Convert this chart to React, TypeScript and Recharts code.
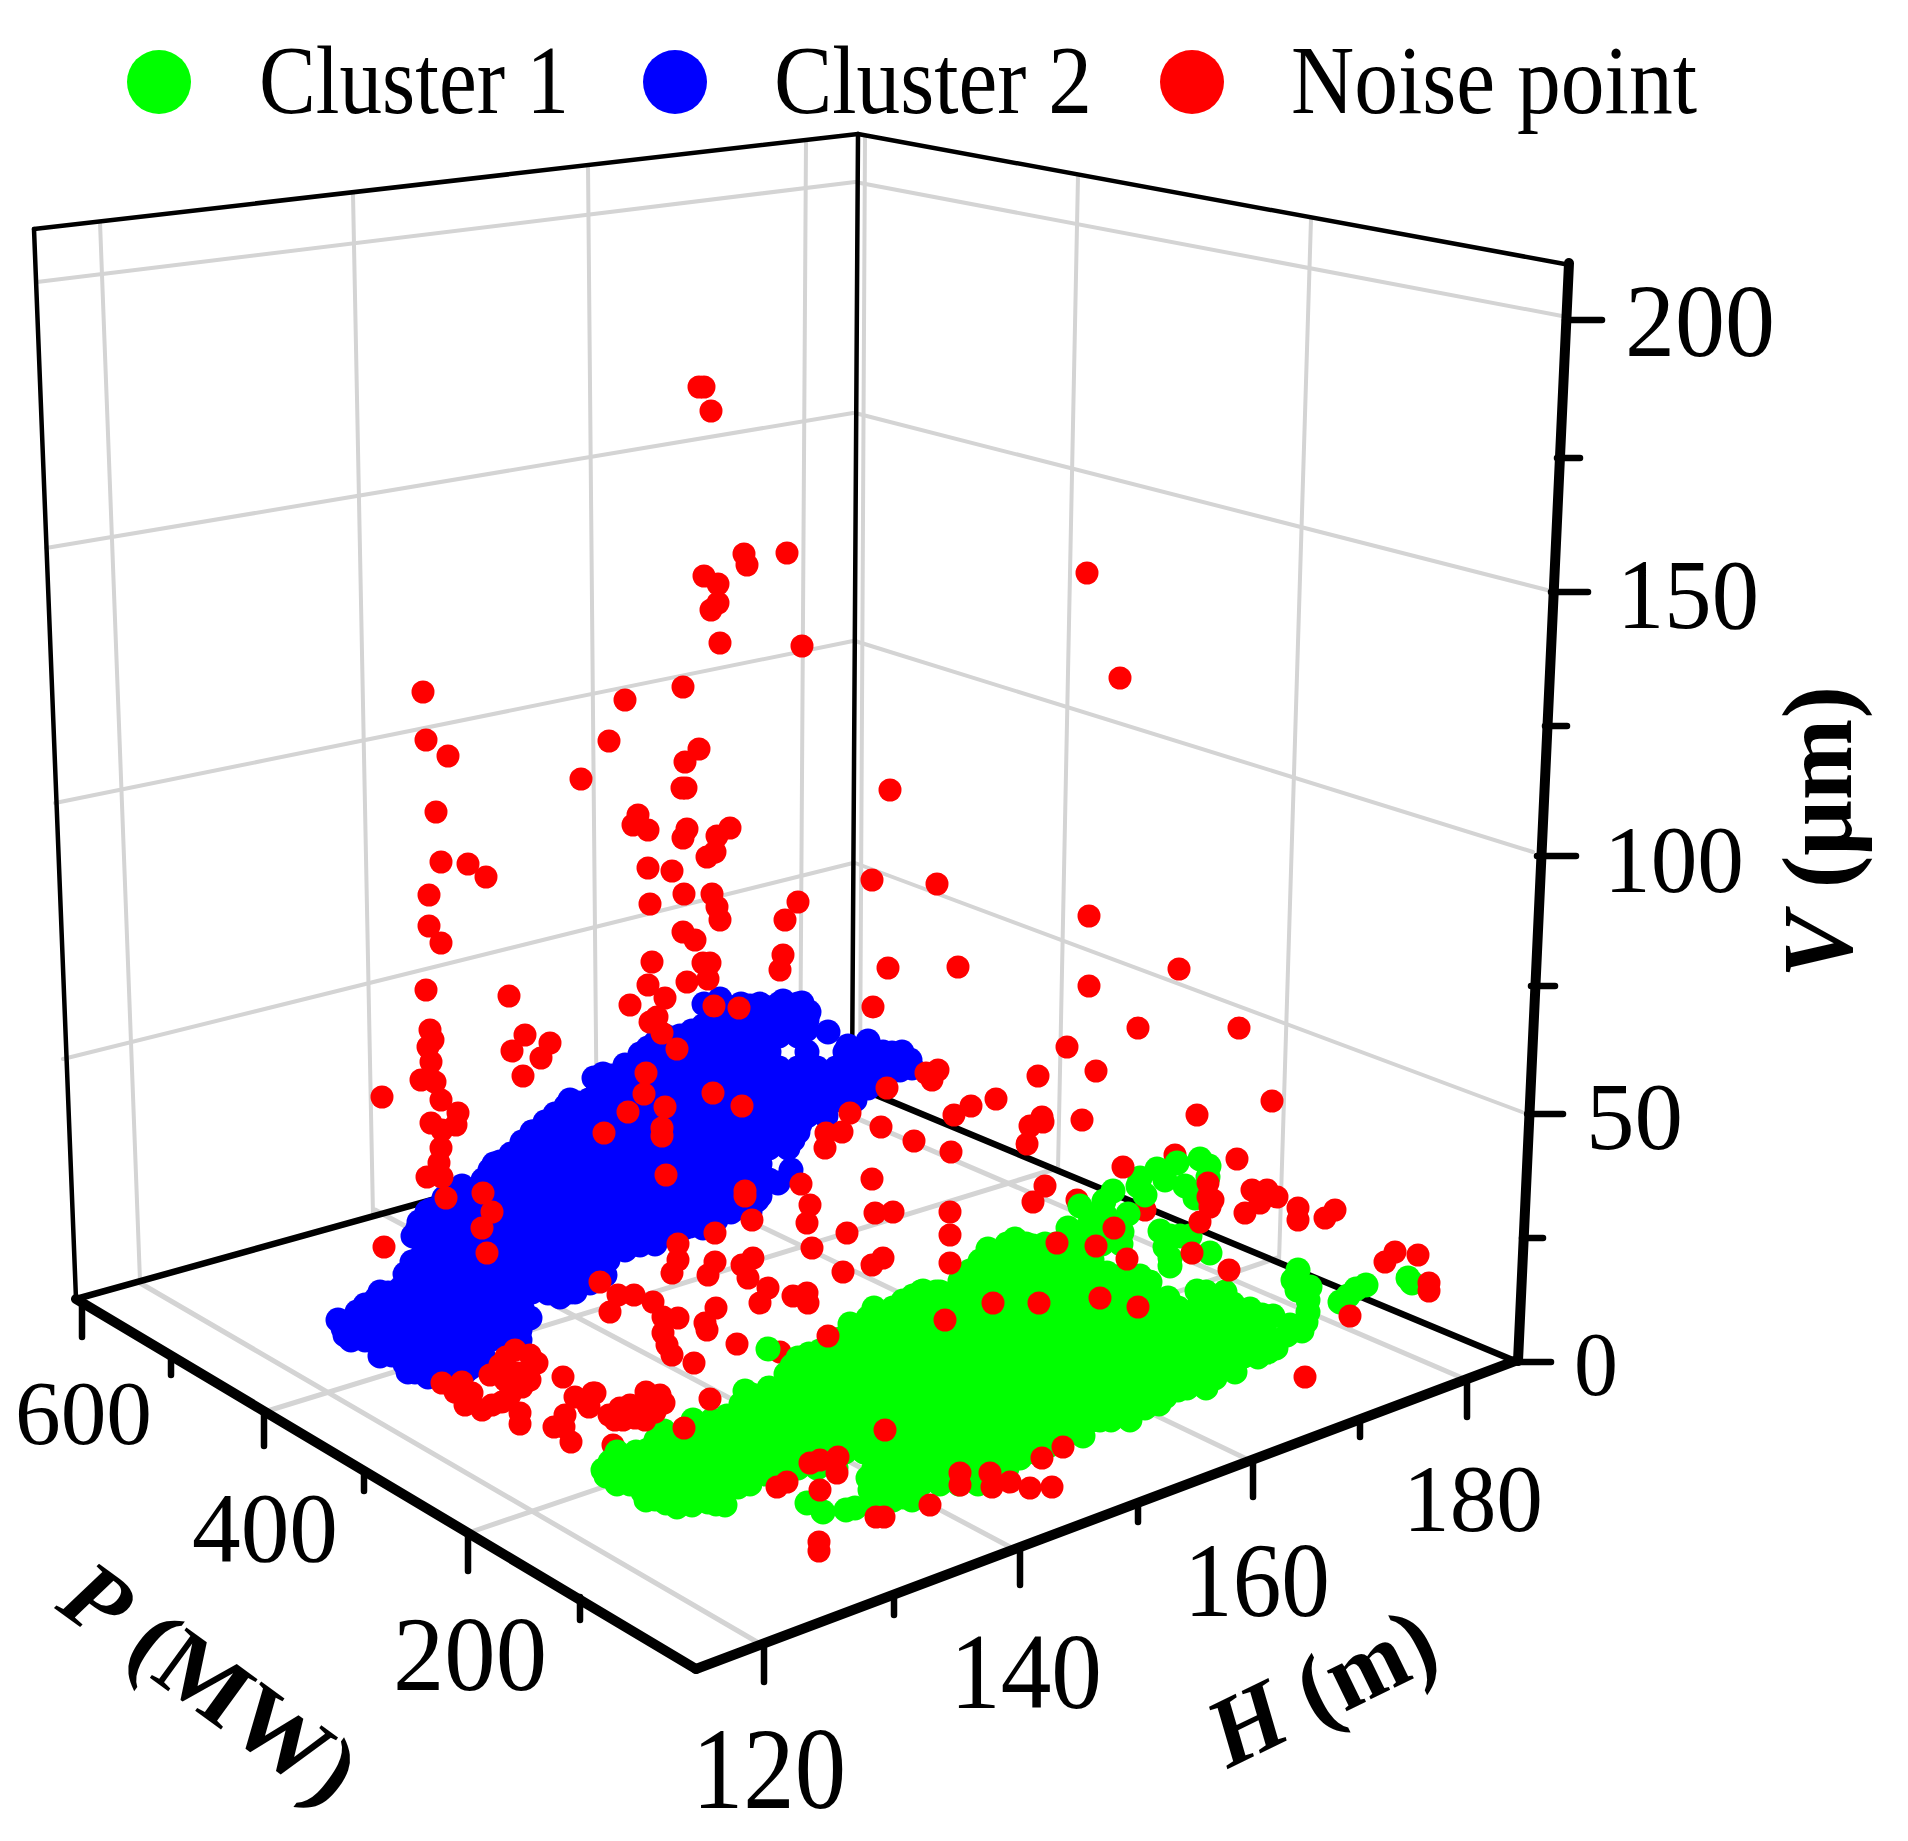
import { ScatterChart, Scatter, XAxis, YAxis, ReferenceLine, ReferenceDot } from 'recharts';

// No 3D chart in Recharts, so everything is kept as projected (x, y) values on a flat plane
const PLANE_W = 1908;
const PLANE_H = 1841;

type Seg = [number, number, number, number];
type Row = [number, number[]];

const seriesNames = ['Cluster 1', 'Cluster 2', 'Noise point'];
const seriesColors = ['#00ff00', '#0000ff', '#ff0000'];

const wallGrid: Seg[] = [
  [37, 282, 855, 182], [46, 548, 853, 413], [55, 803, 853, 641], [63, 1059, 853, 863],
  [855, 182, 1562, 316], [855, 413, 1547, 590], [855, 641, 1533, 852], [855, 863, 1522, 1112],
  [100, 222, 140, 1281], [353, 194, 373, 1215], [588, 165, 597, 1151], [806, 140, 800, 1094],
  [865, 138, 860, 1088], [1078, 176, 1058, 1170], [1311, 219, 1279, 1262],
];
const floorGrid: Seg[] = [
  [140, 1283, 757, 1642], [375, 1210, 1010, 1547], [597, 1148, 1253, 1462], [800, 1094, 1460, 1377],
  [264, 1412, 1058, 1168], [468, 1533, 1277, 1258],
];
const thinFrame: Seg[] = [
  [34, 229, 858, 134], [858, 134, 1570, 265], [34, 229, 76, 1299], [858, 134, 852, 1085],
];
const midFrame: Seg[] = [
  [76, 1299, 852, 1083], [852, 1085, 1515, 1361],
];
const thickAxes: Seg[] = [
  [76, 1299, 696, 1669], [696, 1669, 1515, 1361], [1569, 263, 1518, 1361],
];
const axisTicks: Seg[] = [
  [82, 1299, 82, 1337], [171, 1358, 171, 1375], [264, 1412, 264, 1446], [364, 1473, 364, 1491],
  [468, 1533, 468, 1571], [580, 1597, 580, 1620],
  [764, 1643, 764, 1682], [894, 1595, 894, 1615], [1020, 1547, 1020, 1585], [1138, 1503, 1138, 1522],
  [1253, 1460, 1253, 1497], [1360, 1419, 1360, 1437], [1467, 1379, 1467, 1417],
  [1565, 320, 1602, 320], [1557, 458, 1580, 458], [1551, 592, 1588, 592], [1545, 726, 1567, 726],
  [1537, 856, 1576, 856], [1531, 986, 1555, 986], [1527, 1114, 1563, 1114], [1522, 1238, 1543, 1238],
  [1516, 1362, 1551, 1362],
];

// label, left, baseline, width, font size
const tickLabels: [string, number, number, number, number][] = [
  ['120', 692, 1808, 154, 117], ['140', 950, 1708, 152, 108], ['160', 1184, 1616, 146, 105], ['180', 1403, 1531, 140, 96],
  ['600', 15, 1444, 137, 92], ['400', 192, 1561, 146, 100], ['200', 393, 1690, 154, 106],
  ['200', 1625, 356, 150, 103], ['150', 1617, 628, 142, 99], ['100', 1604, 892, 140, 95], ['50', 1586, 1149, 97, 95], ['0', 1574, 1395, 44, 92],
];
const legendDots = [[159, 82], [675, 82], [1192, 82]];
const legendText: [number, number][] = [[259, 310], [774, 318], [1291, 406]];

const cluster2Rows: Row[] = [
  [1004, [722, 741, 760, 779, 798]],
  [1020, [712, 731, 750, 769, 788, 807]],
  [1036, [665, 684, 703, 722, 741, 760, 779, 798]],
  [1052, [655, 674, 693, 712, 731, 750, 769, 807, 845, 864, 883, 902]],
  [1068, [627, 646, 665, 684, 703, 722, 741, 760, 779, 798, 817, 836, 855, 874, 893, 912]],
  [1084, [598, 617, 636, 655, 674, 693, 712, 731, 750, 769, 788, 807, 826, 845, 864, 883]],
  [1100, [570, 589, 608, 627, 646, 665, 684, 703, 722, 741, 760, 779, 798, 817, 836, 855]],
  [1116, [560, 579, 598, 617, 636, 655, 674, 693, 712, 731, 750, 769, 788, 807, 826]],
  [1132, [532, 551, 570, 589, 608, 627, 646, 665, 684, 703, 722, 741, 760, 779, 798]],
  [1148, [522, 541, 560, 579, 598, 617, 636, 655, 674, 693, 712, 731, 750, 769, 788]],
  [1164, [494, 513, 532, 551, 570, 589, 608, 627, 646, 665, 684, 703, 722, 741, 760]],
  [1180, [484, 503, 522, 541, 560, 579, 598, 617, 636, 655, 674, 693, 712, 731, 750, 769]],
  [1196, [456, 475, 494, 513, 532, 551, 570, 589, 608, 627, 646, 665, 684, 703, 722, 741, 760]],
  [1212, [427, 446, 465, 484, 503, 522, 541, 560, 579, 598, 617, 636, 655, 674, 693, 712, 731, 750]],
  [1228, [418, 437, 456, 475, 494, 513, 532, 551, 570, 589, 608, 627, 646, 665, 684, 703]],
  [1244, [427, 446, 465, 484, 503, 522, 541, 560, 579, 598, 617, 636, 655]],
  [1260, [418, 437, 456, 475, 494, 513, 532, 551, 570, 589, 608]],
  [1276, [408, 427, 446, 465, 484, 503, 522, 541, 560, 579, 598]],
  [1292, [380, 399, 418, 437, 456, 475, 494, 513, 532, 551, 570]],
  [1308, [370, 389, 408, 427, 446, 465, 484, 503, 522]],
  [1324, [361, 380, 399, 418, 437, 456, 475, 494]],
  [1340, [351, 370, 389, 408, 427, 446, 465, 484, 503]],
  [1356, [380, 399, 418, 437, 456, 475]],
  [1372, [408, 427, 446, 465]],
];
const cluster2Edge: [number, number][] = [
  [343, 1328], [357, 1312], [376, 1299], [400, 1289], [405, 1274], [424, 1250], [419, 1222], [444, 1198], [462, 1186],
  [483, 1180], [490, 1170], [511, 1154], [522, 1142], [545, 1122], [566, 1106], [590, 1100], [594, 1078], [603, 1074],
  [612, 1076], [640, 1054], [656, 1042], [680, 1036], [703, 1026], [704, 1004], [720, 999], [733, 1008], [750, 1006],
  [768, 1008], [783, 1001], [802, 1003], [809, 1012], [806, 1030], [828, 1032], [848, 1046], [868, 1041], [892, 1053],
  [910, 1060], [900, 1070], [885, 1080], [868, 1088], [845, 1100], [820, 1112], [800, 1124], [793, 1140], [791, 1170],
  [778, 1183], [757, 1200], [716, 1220], [690, 1226], [660, 1232], [625, 1250], [603, 1268], [575, 1292], [548, 1293],
  [515, 1312], [520, 1330], [520, 1340], [490, 1340], [484, 1358], [465, 1362], [440, 1369], [428, 1377], [405, 1364],
  [378, 1342], [355, 1338],
  [605, 1275], [640, 1245], [675, 1232], [705, 1225], [560, 1297], [590, 1283], [530, 1318], [505, 1328], [470, 1368],
  [450, 1372], [415, 1372], [392, 1355], [365, 1340], [345, 1335], [338, 1320], [365, 1305], [388, 1293], [412, 1262],
  [413, 1236], [431, 1210], [453, 1192], [500, 1162], [533, 1132], [555, 1114], [578, 1103], [625, 1065], [648, 1048],
  [668, 1039], [692, 1031],
];

const cluster1Rows: Row[] = [
  [1244, [1007, 1026, 1045, 1064, 1083, 1102, 1121]],
  [1260, [997, 1016, 1035, 1054, 1073, 1092]],
  [1276, [969, 988, 1007, 1026, 1045, 1064, 1083, 1102, 1121, 1140]],
  [1292, [921, 940, 959, 978, 997, 1016, 1035, 1054, 1073, 1092, 1111, 1130, 1149, 1206, 1225]],
  [1308, [874, 893, 912, 931, 950, 969, 988, 1007, 1026, 1045, 1064, 1083, 1102, 1121, 1140, 1159, 1178, 1197, 1216, 1235]],
  [1324, [864, 883, 902, 921, 940, 959, 978, 997, 1016, 1035, 1054, 1073, 1092, 1111, 1130, 1149, 1168, 1187, 1206, 1225, 1244, 1263]],
  [1340, [836, 855, 874, 893, 912, 931, 950, 969, 988, 1007, 1026, 1045, 1064, 1083, 1102, 1121, 1140, 1159, 1178, 1197, 1216, 1235, 1254, 1273]],
  [1356, [807, 826, 845, 864, 883, 902, 921, 940, 959, 978, 997, 1016, 1035, 1054, 1073, 1092, 1111, 1130, 1149, 1168, 1187, 1206, 1225, 1244]],
  [1372, [798, 817, 836, 855, 874, 893, 912, 931, 950, 969, 988, 1007, 1026, 1045, 1064, 1083, 1102, 1121, 1140, 1159, 1178, 1197, 1216, 1235]],
  [1388, [769, 788, 807, 826, 845, 864, 883, 902, 921, 940, 959, 978, 997, 1016, 1035, 1054, 1073, 1092, 1111, 1130, 1149, 1168, 1187, 1206]],
  [1404, [741, 760, 779, 798, 817, 836, 855, 874, 893, 912, 931, 950, 969, 988, 1007, 1026, 1045, 1064, 1083, 1102, 1121, 1140, 1159]],
  [1420, [693, 712, 731, 750, 769, 788, 807, 826, 845, 864, 883, 902, 921, 940, 959, 978, 997, 1016, 1035, 1054, 1073, 1092, 1111, 1130]],
  [1436, [665, 684, 703, 722, 741, 760, 779, 798, 817, 836, 855, 874, 893, 912, 931, 950, 969, 988, 1007, 1026, 1045, 1064, 1083]],
  [1452, [617, 636, 655, 674, 693, 712, 731, 750, 769, 788, 807, 826, 845, 864, 883, 902, 921, 940, 959, 978, 997, 1016, 1035]],
  [1468, [608, 627, 646, 665, 684, 703, 722, 741, 760, 779, 798, 817, 836, 874, 893, 912, 931, 950, 969, 988, 1007]],
  [1484, [617, 636, 655, 674, 693, 712, 731, 750, 883, 902, 921, 940, 959, 978]],
  [1500, [646, 665, 684, 703, 722, 874, 893, 912]],
];
const cluster1Edge: [number, number][] = [
  [603, 1470], [610, 1462], [628, 1458], [648, 1450], [664, 1431], [690, 1438], [714, 1430], [727, 1416], [737, 1414],
  [745, 1391], [760, 1398], [775, 1391], [786, 1374], [798, 1358], [820, 1351], [843, 1338], [850, 1324], [868, 1318],
  [880, 1331], [903, 1301], [923, 1291], [950, 1294], [960, 1281], [980, 1261], [988, 1249], [1003, 1254], [1015, 1239],
  [1033, 1246], [1056, 1244], [1068, 1228], [1080, 1206], [1104, 1201], [1113, 1191], [1138, 1186], [1140, 1178],
  [1157, 1169], [1177, 1163], [1200, 1159], [1209, 1166], [1208, 1177], [1090, 1215], [1105, 1215], [1128, 1214],
  [1085, 1230], [1105, 1230], [1122, 1232], [1097, 1245], [1145, 1195], [1165, 1180], [1185, 1186], [1195, 1198],
  [1107, 1273], [1140, 1278], [1150, 1282], [1168, 1298], [1197, 1291], [1213, 1301], [1233, 1304], [1250, 1309],
  [1262, 1315], [1273, 1316], [1290, 1325], [1287, 1335], [1276, 1348], [1258, 1357], [1240, 1358], [1215, 1378],
  [1190, 1383], [1165, 1397], [1145, 1408], [1075, 1426], [1050, 1445], [1020, 1458], [975, 1479], [903, 1497],
  [870, 1490], [868, 1478], [840, 1454], [810, 1455], [765, 1474], [738, 1487], [725, 1505], [708, 1502], [677, 1507],
  [655, 1499], [630, 1484], [606, 1476],
  [618, 1480], [643, 1492], [666, 1503], [692, 1505], [716, 1504], [750, 1480], [1000, 1468], [1035, 1452], [1060, 1437],
  [1100, 1420], [1125, 1413], [1155, 1402], [1178, 1390], [1203, 1381], [1228, 1368], [1268, 1352], [620, 1460], [638, 1454],
  [656, 1440], [702, 1434], [752, 1395], [767, 1394], [792, 1366], [809, 1354], [832, 1345], [892, 1315], [913, 1296],
  [936, 1292], [970, 1271], [1125, 1275],
  [807, 1503], [823, 1512], [846, 1510], [855, 1508], [768, 1349],
  [1160, 1231], [1170, 1236], [1180, 1236], [1190, 1236], [1165, 1247], [1170, 1258], [1170, 1266], [1210, 1253],
  [1298, 1270], [1293, 1280], [1310, 1287], [1297, 1290], [1308, 1300], [1308, 1312], [1306, 1322], [1302, 1331],
  [1340, 1302], [1348, 1296], [1356, 1289], [1366, 1285], [1408, 1278], [1412, 1283],
];

const noiseBehind: [number, number][] = [
  [780, 1352], [1175, 1155], [1077, 1200], [1145, 1210], [613, 1445],
];
const noiseUpper: [number, number][] = [
  [699, 387], [704, 387], [711, 411], [744, 554], [747, 565], [787, 553], [704, 576], [718, 584], [718, 603], [711, 610],
  [720, 643], [802, 646], [423, 692], [683, 687], [625, 700], [426, 740], [448, 756], [609, 741], [699, 749], [685, 762],
  [581, 779], [682, 788], [686, 788], [436, 812], [638, 815], [633, 825], [648, 830], [687, 829], [683, 838], [730, 828],
  [717, 836], [715, 852], [707, 857], [441, 862], [468, 864], [486, 877], [648, 868], [672, 871], [684, 894], [712, 894],
  [717, 907], [720, 920], [429, 895], [650, 904], [429, 926], [441, 943], [683, 932], [695, 940], [798, 902], [785, 920],
  [783, 955], [780, 970], [652, 962], [710, 963], [703, 963], [687, 982], [708, 979], [648, 985], [426, 990], [509, 996],
  [665, 998], [630, 1005], [657, 1017], [650, 1022], [662, 1033], [714, 1006], [739, 1008], [890, 790], [872, 880], [888, 968],
  [873, 1007], [430, 1030], [433, 1040], [428, 1047], [431, 1062], [421, 1080], [435, 1082], [441, 1100], [458, 1113],
  [431, 1123], [456, 1125], [442, 1130], [441, 1148], [439, 1163], [427, 1177], [442, 1177], [525, 1035], [512, 1051],
  [550, 1043], [541, 1058], [523, 1076], [382, 1097], [446, 1198], [384, 1247],
];
const noiseOnBlue: [number, number][] = [
  [677, 1049], [646, 1073], [644, 1094], [628, 1112], [665, 1107], [662, 1128], [662, 1136], [604, 1133], [713, 1093],
  [742, 1106], [666, 1175], [745, 1191], [745, 1196], [483, 1193], [492, 1212], [482, 1228], [487, 1253],
];
const noiseRightWall: [number, number][] = [
  [1087, 573], [1120, 678], [937, 884], [1089, 916], [958, 967], [1179, 969], [1089, 986], [1138, 1028], [1239, 1028],
  [1067, 1047], [1096, 1071], [1038, 1076], [1272, 1101], [1197, 1115], [926, 1073], [938, 1070], [932, 1080], [887, 1088],
  [996, 1099], [971, 1106], [954, 1115], [1042, 1117], [1030, 1126], [1082, 1120], [1027, 1144], [1043, 1122], [850, 1113],
  [842, 1132], [826, 1133], [825, 1148], [881, 1127], [914, 1141], [951, 1152], [1123, 1167], [1237, 1159], [1208, 1183],
  [1208, 1197], [1213, 1200], [1210, 1207], [1200, 1222], [1192, 1253], [1229, 1270], [1252, 1190], [1267, 1190], [1277, 1197],
  [1260, 1203], [1245, 1213], [1298, 1208], [1298, 1220], [1325, 1218], [1335, 1210], [1395, 1252], [1385, 1262], [1418, 1255],
  [1429, 1283], [1429, 1291], [1350, 1316], [1305, 1377], [1045, 1186], [1033, 1202], [1096, 1246], [1114, 1228], [1127, 1259],
];
const noiseFloor: [number, number][] = [
  [801, 1184], [810, 1205], [807, 1223], [812, 1248], [847, 1233], [872, 1179], [875, 1213], [893, 1212], [843, 1272],
  [872, 1265], [883, 1258], [950, 1212], [950, 1235], [950, 1263], [752, 1220], [715, 1233], [678, 1244], [678, 1260],
  [672, 1273], [715, 1262], [708, 1275], [753, 1258], [742, 1265], [748, 1278], [768, 1288], [760, 1303], [793, 1296],
  [807, 1293], [808, 1303], [600, 1282], [618, 1295], [634, 1295], [610, 1312], [653, 1302], [678, 1318], [663, 1317],
  [663, 1333], [667, 1345], [672, 1355], [694, 1363], [716, 1308], [705, 1323], [707, 1330], [737, 1344], [828, 1336],
  [506, 1357], [537, 1363], [518, 1373], [522, 1387], [442, 1383], [462, 1382], [472, 1393], [482, 1410], [502, 1402], [520, 1413],
  [500, 1365], [515, 1350], [530, 1355], [505, 1380], [530, 1380], [490, 1375], [455, 1392], [465, 1405], [492, 1405], [510, 1395],
  [563, 1377], [575, 1397], [595, 1393], [589, 1407], [565, 1415], [646, 1392], [664, 1403], [644, 1407], [620, 1408], [609, 1415],
  [655, 1412], [635, 1418], [615, 1420], [660, 1395],
  [710, 1399], [520, 1424], [564, 1427], [571, 1442], [554, 1427], [593, 1393], [588, 1405], [645, 1420], [630, 1405], [623, 1420],
];
const noiseOnGreen: [number, number][] = [
  [684, 1428], [820, 1460], [810, 1463], [838, 1457], [837, 1473], [787, 1482], [777, 1487], [820, 1490], [876, 1517], [884, 1517],
  [930, 1505], [960, 1473], [960, 1485], [990, 1473], [992, 1487], [1010, 1482], [1030, 1488], [1052, 1487], [1042, 1458], [1063, 1447],
  [819, 1542], [819, 1551], [1057, 1243], [945, 1320], [993, 1303], [1039, 1303], [1100, 1298], [1138, 1307], [885, 1430],
];

const fromRows = (rows: Row[], edge: [number, number][]) => [
  ...rows.flatMap(([y, xs]) => xs.map((x) => ({ x, y }))),
  ...edge.map(([x, y]) => ({ x, y })),
];
const toPoints = (list: [number, number][]) => list.map(([x, y]) => ({ x, y }));

const cluster1 = fromRows(cluster1Rows, cluster1Edge);
const cluster2 = fromRows(cluster2Rows, cluster2Edge);
const noise = toPoints([...noiseUpper, ...noiseOnBlue, ...noiseRightWall, ...noiseFloor, ...noiseOnGreen]);

const SERIF = '"Liberation Serif", serif';

function dot(fill: string, r: number) {
  return (props: any) => <circle cx={props.cx} cy={props.cy} r={r} fill={fill} />;
}

function segments(list: Seg[], stroke: string, strokeWidth: number, prefix: string) {
  return list.map(([x1, y1, x2, y2], i) => (
    <ReferenceLine
      key={`${prefix}-${i}`}
      segment={[{ x: x1, y: y1 }, { x: x2, y: y2 }]}
      stroke={stroke}
      strokeWidth={strokeWidth}
      strokeLinecap="round"
    />
  ));
}

export default function App() {
  return (
    <div style={{ position: 'absolute', left: 0, top: 0, width: PLANE_W, height: PLANE_H, background: '#fff' }}>
      <ScatterChart width={PLANE_W} height={PLANE_H} margin={{ top: 0, right: 0, bottom: 0, left: 0 }}>
        <XAxis type="number" dataKey="x" domain={[0, PLANE_W]} hide />
        <YAxis type="number" dataKey="y" domain={[0, PLANE_H]} reversed hide />

        {segments(wallGrid, '#d4d4d4', 4, 'wall')}
        {segments(floorGrid, '#d4d4d4', 5, 'floor')}
        {segments(thinFrame, '#000', 4.5, 'thin')}
        {segments(midFrame, '#000', 6.5, 'mid')}
        {segments(thickAxes, '#000', 10, 'axis')}
        {segments(axisTicks, '#000', 6.5, 'tick')}

        <Scatter name={seriesNames[1]} data={cluster2} fill={seriesColors[1]} shape={dot(seriesColors[1], 12.5)} isAnimationActive={false} />
        <Scatter name="Noise (hidden part)" data={toPoints(noiseBehind)} fill={seriesColors[2]} shape={dot(seriesColors[2], 11.5)} isAnimationActive={false} />
        <Scatter name={seriesNames[0]} data={cluster1} fill={seriesColors[0]} shape={dot(seriesColors[0], 12.5)} isAnimationActive={false} />
        <Scatter name={seriesNames[2]} data={noise} fill={seriesColors[2]} shape={dot(seriesColors[2], 11.5)} isAnimationActive={false} />

        {legendDots.map(([x, y], i) => (
          <ReferenceDot key={i} x={x} y={y} r={32} fill={seriesColors[i]} stroke="none" />
        ))}

        {seriesNames.map((name, i) => (
          <text key={name} x={legendText[i][0]} y={113} fontFamily={SERIF} fontSize={97} textLength={legendText[i][1]} lengthAdjust="spacingAndGlyphs">
            {name}
          </text>
        ))}
        {tickLabels.map(([label, x, y, w, size], i) => (
          <text key={i} x={x} y={y} fontFamily={SERIF} fontSize={size} textLength={w} lengthAdjust="spacingAndGlyphs">
            {label}
          </text>
        ))}

        <text transform="translate(54 1608) rotate(36)" fontFamily={SERIF} fontSize={95} fontWeight="bold" textLength={340} lengthAdjust="spacingAndGlyphs">
          <tspan fontStyle="italic">P</tspan> (MW)
        </text>
        <text transform="translate(1228 1769) rotate(-26)" fontFamily={SERIF} fontSize={98} fontWeight="bold" textLength={240} lengthAdjust="spacingAndGlyphs">
          <tspan fontStyle="italic">H</tspan> (m)
        </text>
        <text transform="translate(1851 978) rotate(-90)" fontFamily={SERIF} fontSize={100} fontWeight="bold" textLength={292} lengthAdjust="spacingAndGlyphs">
          <tspan fontStyle="italic">V</tspan> (μm)
        </text>
      </ScatterChart>
    </div>
  );
}
